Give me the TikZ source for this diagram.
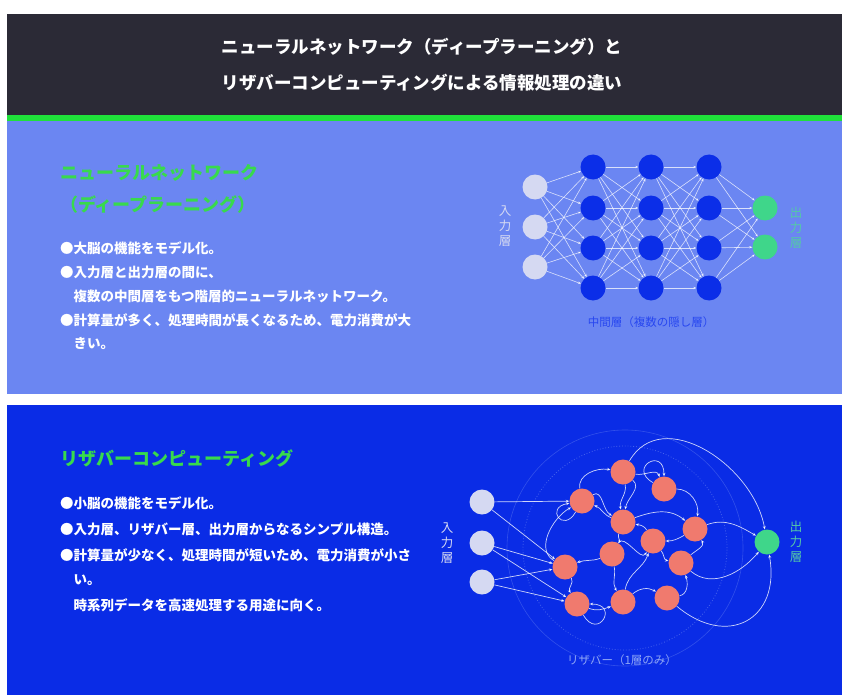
\documentclass[tikz,border=0pt]{standalone}
\usepackage{fontspec}
\setmainfont{Noto Sans CJK JP}
\usetikzlibrary{arrows.meta}
\definecolor{titlebg}{HTML}{2B2A36}
\definecolor{gline}{HTML}{1FE03A}
\definecolor{lightpanel}{HTML}{6B86F2}
\definecolor{darkpanel}{HTML}{0A2CE6}
\definecolor{hidc}{HTML}{0B2EE8}
\definecolor{inpc}{HTML}{D5D9F2}
\definecolor{outc}{HTML}{3FD68A}
\definecolor{resc}{HTML}{F07A6E}
\definecolor{headg}{HTML}{38DA4C}
\definecolor{midlab}{HTML}{2746F0}
\definecolor{outlab}{HTML}{55C8A8}
\definecolor{reslab}{HTML}{8FA6F6}
\tikzset{
  every node/.style={inner sep=0pt},
  inp/.style={circle,fill=inpc,minimum size=25pt},
  hid/.style={circle,fill=hidc,minimum size=25pt},
  outn/.style={circle,fill=outc,minimum size=25pt},
  resn/.style={circle,fill=resc,minimum size=25pt},
  titletxt/.style={text=white,font=\fontsize{17.5}{20}\selectfont\bfseries},
  headtxt/.style={text=headg,anchor=west,font=\fontsize{18}{20}\selectfont\bfseries},
  bodytxt/.style={text=white,anchor=west,font=\fontsize{13.5}{15}\selectfont\bfseries},
  vlab/.style={align=center,font=\fontsize{12.5}{15}\selectfont},
  nnedge/.style={draw=white,draw opacity=0.75,line width=0.6pt,-{Stealth[length=3pt,width=2.4pt]}},
  redge/.style={draw=white,draw opacity=0.8,line width=0.7pt,-{Stealth[length=3.5pt,width=2.8pt]}},
}
\begin{document}
\begin{tikzpicture}[x=1pt,y=1pt]
\useasboundingbox (0,0) rectangle (842,-695);
\fill[white] (0,0) rectangle (842,-695);
% panels
\fill[titlebg] (7,-14) rectangle (842,-115);
\fill[gline] (7,-115) rectangle (842,-121);
\fill[lightpanel] (7,-121) rectangle (842,-394);
\fill[darkpanel] (7,-405) rectangle (842,-695);
% title
\node[titletxt] (t1) at (422,-47) {ニューラルネットワーク（ディープラーニング）と};
\node[titletxt] (t2) at (422,-83) {リザバーコンピューティングによる情報処理の違い};
% top text
\node[headtxt] (h1a) at (60,-173) {ニューラルネットワーク};
\node[headtxt] (h1b) at (60,-205) {（ディープラーニング）};
\node[bodytxt] (b1) at (60,-248) {●大脳の機能をモデル化。};
\node[bodytxt] (b2) at (60,-272) {●入力層と出力層の間に、};
\node[bodytxt] (b3) at (60,-296) {\hspace{13.5pt}複数の中間層をもつ階層的ニューラルネットワーク。};
\node[bodytxt] (b4) at (60,-320) {●計算量が多く、処理時間が長くなるため、電力消費が大};
\node[bodytxt] (b5) at (60,-343) {\hspace{13.5pt}きい。};
% top network
\foreach \i/\y in {1/187,2/227,3/267} \node[inp] (a\i) at (535,-\y) {};
\foreach \c/\x in {1/593,2/651,3/709}
  \foreach \r/\y in {1/167,2/208,3/248,4/288}
    \node[hid] (h\c\r) at (\x,-\y) {};
\node[outn] (o1) at (765,-208) {};
\node[outn] (o2) at (765,-247) {};
\foreach \i in {1,2,3} \foreach \r in {1,2,3,4} \path[nnedge] (a\i) -- (h1\r);
\foreach \p/\n in {1/2,2/3} \foreach \i in {1,2,3,4} \foreach \r in {1,2,3,4} \path[nnedge] (h\p\i) -- (h\n\r);
\foreach \i in {1,2,3,4} \foreach \r in {1,2} \path[nnedge] (h3\i) -- (o\r);
\node[vlab,text=inpc] (lin1) at (505,-226) {入\\力\\層};
\node[vlab,text=outlab] (lout1) at (796,-228) {出\\力\\層};
\node[text=midlab,font=\fontsize{11.5}{13}\selectfont] (lmid) at (651,-322) {中間層（複数の隠し層）};
% bottom text
\node[headtxt] (h2) at (60,-458) {リザバーコンピューティング};
\node[bodytxt] (c1) at (60,-503) {●小脳の機能をモデル化。};
\node[bodytxt] (c2) at (60,-529) {●入力層、リザバー層、出力層からなるシンプル構造。};
\node[bodytxt] (c3) at (60,-555) {●計算量が少なく、処理時間が短いため、電力消費が小さ};
\node[bodytxt] (c4) at (60,-580) {\hspace{13.5pt}い。};
\node[bodytxt] (c5) at (60,-605) {\hspace{13.5pt}時系列データを高速処理する用途に向く。};
% reservoir rings
\node[circle,draw=reslab,draw opacity=0.45,dotted,line width=0.8pt,minimum size=204pt] (ring1) at (625,-548) {};
\node[circle,draw=reslab,draw opacity=0.3,line width=0.6pt,minimum size=236pt] (ring2) at (625,-548) {};
% reservoir nodes
\foreach \i/\y in {1/502,2/543,3/582} \node[inp] (ri\i) at (482,-\y) {};
\node[outn] (ro) at (767,-542) {};
\foreach \n/\x/\y in {1/623/472,2/664/489,3/582/501,4/623/522,5/695/529,6/653/541,
  7/612/554,8/565/567,9/681/563,10/577/604,11/623/602,12/667/598}
  \node[resn] (r\n) at (\x,-\y) {};
% input edges
\path[redge] (ri1) -- (r3);
\path[redge] (ri1) -- (r8);
\path[redge] (ri2) -- (r8);
\path[redge] (ri2) -- (r10);
\path[redge] (ri3) -- (r8);
\path[redge] (ri3) -- (r10);
% internal edges
\path[redge] (r3) to[out=100,in=170] (r1);
\path[redge] (r1) to[out=-40,in=80] (r4);
\path[redge] (r4) to[out=160,in=-20] (r3);
\path[redge] (r2) to[out=0,in=80] (r5);
\path[redge] (r5) to[out=-150,in=0] (r6);
\path[redge] (r6) to[out=120,in=-10] (r4);
\path[redge] (r4) to[out=-110,in=60] (r7);
\path[redge] (r7) to[out=-160,in=20] (r8);
\path[redge] (r8) to[out=150,in=-150] (r3);
\path[redge] (r8) to[out=-60,in=120] (r10);
\path[redge] (r10) to[out=-20,in=-160] (r11);
\path[redge] (r11) to[out=40,in=150] (r12);
\path[redge] (r12) to[out=10,in=-70] (r9);
\path[redge] (r9) to[out=40,in=-60] (r5);
\path[redge] (r6) to[out=-50,in=170] (r9);
\path[redge] (r7) to[out=-80,in=120] (r11);
\path[redge] (r1) to[out=-80,in=100] (r4);
\path[redge] (r4) to[out=20,in=140] (r5);
\path[redge] (r7) to[out=60,in=-120] (r6);
\path[redge] (r11) to[out=80,in=-110] (r6);
\path[redge] (r3) to[out=30,in=150] (r4);
\path[redge] (r1) to[out=-10,in=110] (r2);
% self loops
\path[redge] (r3) to[out=-120,in=-170,looseness=6] (r3);
\path[redge] (r2) to[out=150,in=90,looseness=6] (r2);
\path[redge] (r10) to[out=-60,in=0,looseness=6] (r10);
% to output
\path[redge] (r5) to[out=20,in=150] (ro);
\path[redge] (r9) to[out=-40,in=-130] (ro);
\path[redge] (r12) to[out=-40,in=-80,looseness=1.6] (ro);
\path[redge] (r1) to[out=60,in=100,looseness=1.1] (ro);
% labels
\node[vlab,text=inpc] (lin2) at (447,-543) {入\\力\\層};
\node[vlab,text=outlab] (lout2) at (796,-542) {出\\力\\層};
\node[text=reslab,font=\fontsize{11.5}{13}\selectfont] (lres) at (622,-660) {リザバー（1層のみ）};
\end{tikzpicture}
\end{document}
